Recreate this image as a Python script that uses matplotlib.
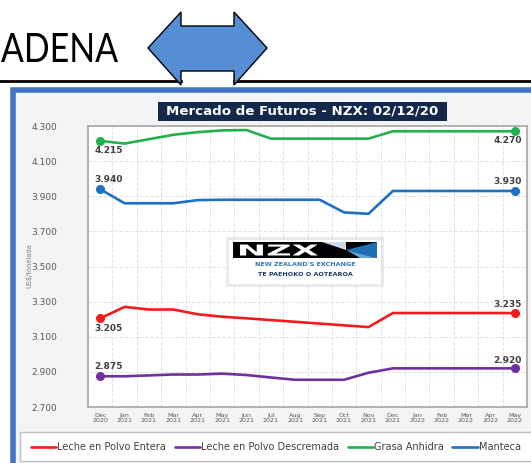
import numpy as np
import matplotlib
matplotlib.use("Agg")
import matplotlib.pyplot as plt
from matplotlib.patches import Rectangle, Polygon, PathPatch
from matplotlib.ticker import FuncFormatter
from matplotlib.textpath import TextPath
from matplotlib.font_manager import FontProperties
from matplotlib.transforms import Affine2D

# data (US$/tonelada)
months = ["Dec\n2020", "Jan\n2021", "Feb\n2021", "Mar\n2021", "Apr\n2021", "May\n2021",
          "Jun\n2021", "Jul\n2021", "Aug\n2021", "Sep\n2021", "Oct\n2021", "Nov\n2021",
          "Dec\n2021", "Jan\n2022", "Feb\n2022", "Mar\n2022", "Apr\n2022", "May\n2022"]
entera = [3205, 3270, 3255, 3255, 3228, 3214, 3205, 3195, 3185, 3175, 3165, 3155,
          3235, 3235, 3235, 3235, 3235, 3235]
descremada = [2875, 2875, 2880, 2885, 2885, 2890, 2882, 2868, 2855, 2855, 2855, 2895,
              2920, 2920, 2920, 2920, 2920, 2920]
grasa = [4215, 4200, 4225, 4250, 4265, 4275, 4277, 4228, 4228, 4228, 4228, 4228,
         4270, 4270, 4270, 4270, 4270, 4270]
manteca = [3940, 3860, 3860, 3860, 3878, 3880, 3880, 3880, 3880, 3880, 3808, 3800,
           3930, 3930, 3930, 3930, 3930, 3930]
series_names = ["Leche en Polvo Entera", "Leche en Polvo Descremada", "Grasa Anhidra", "Manteca"]
colors = ["#f21c1c", "#7030a0", "#22b14c", "#1f6fc5"]

W, H = 531, 463
fig = plt.figure(figsize=(W / 100, H / 100), dpi=100)


def rect(l, t, r, b):
    return [l / W, 1 - b / H, (r - l) / W, (b - t) / H]


def fitted_text(axis, s, x0, y_top, x1, y_bot, color, family="DejaVu Sans", weight="normal"):
    # text path squeezed into a pixel box (y axis inverted)
    tp = TextPath((0, 0), s, size=10, prop=FontProperties(family=family, weight=weight))
    e = tp.get_extents()
    tr = (Affine2D().translate(-e.x0, -e.y0)
          .scale((x1 - x0) / e.width, -(y_bot - y_top) / e.height).translate(x0, y_bot))
    axis.add_patch(PathPatch(tr.transform_path(tp), facecolor=color, edgecolor="none"))


# background layer in pixel coordinates
bg = fig.add_axes([0, 0, 1, 1])
bg.set_xlim(0, W)
bg.set_ylim(H, 0)
bg.axis("off")

fitted_text(bg, "ADENA", 1, 33, 118, 62, "black", family="Lato")
bg.plot([0, 181], [81, 81], color="black", lw=2, zorder=1)
bg.plot([234, W], [81, 81], color="black", lw=2, zorder=1)
arrow = [(148, 48), (181, 12), (181, 26), (234, 26), (234, 12), (267, 48),
         (234, 85), (234, 71), (181, 71), (181, 85)]
bg.add_patch(Polygon(arrow, closed=True, facecolor="#558ed5", edgecolor="black", lw=1, zorder=3))

# chart panel
bg.add_patch(Rectangle((12.5, 89.5), 530, 380, facecolor="#f3f4f6", edgecolor="#4472c4", lw=4))
bg.add_patch(Rectangle((158, 102), 289, 19, facecolor="#13284a", edgecolor="none"))
bg.text(302.5, 111.5, "Mercado de Futuros - NZX: 02/12/20", ha="center", va="center",
        color="white", fontsize=9.6, fontweight="bold")
bg.text(29, 266, "US$/tonelada", rotation=90, ha="center", va="center", fontsize=4.8, color="#7f7f7f")
bg.add_patch(Rectangle((20, 432), 520, 29, facecolor="white", edgecolor="#bfbfbf", lw=1))

# main chart
ax = fig.add_axes(rect(88, 126, 527, 407))
ax.set_facecolor("white")
x = np.arange(len(months))
all_series = [entera, descremada, grasa, manteca]
handles = []
for vals, c, name in zip(all_series, colors, series_names):
    ln, = ax.plot(x, vals, color=c, lw=1.9, label=name, solid_capstyle="round")
    ax.plot([x[0], x[-1]], [vals[0], vals[-1]], "o", color=c, ms=5.5)
    handles.append(ln)

fmt = lambda v: f"{v:,.0f}".replace(",", ".")
# first/last point labels: (dy first, dy last) in points
label_offsets = {0: (-7, 6), 1: (7, 6), 2: (-7, -7), 3: (7, 7)}
for i, vals in enumerate(all_series):
    d0, d1 = label_offsets[i]
    ax.annotate(fmt(vals[0]), (x[0], vals[0]), xytext=(6, d0), textcoords="offset points",
                ha="center", va="center", fontsize=6.5, fontweight="bold", color="#404040")
    ax.annotate(fmt(vals[-1]), (x[-1], vals[-1]), xytext=(-5, d1), textcoords="offset points",
                ha="center", va="center", fontsize=6.5, fontweight="bold", color="#404040")

ax.set_xlim(-0.5, len(months) - 0.5)
ax.set_ylim(2700, 4300)
ax.set_yticks(np.arange(2700, 4301, 200))
ax.yaxis.set_major_formatter(FuncFormatter(lambda v, p: fmt(v)))
ax.set_xticks(x)
ax.set_xticklabels(months, fontsize=4.6, color="#595959", linespacing=1.1)
ax.set_xticks(np.arange(-0.5, len(months), 1), minor=True)
ax.tick_params(axis="y", length=0, labelsize=6.5, labelcolor="#595959", pad=22)
ax.tick_params(axis="x", which="both", length=0, pad=4)
ax.grid(axis="y", which="major", color="#e3e3e3", ls="--", lw=0.7)
ax.grid(axis="x", which="minor", color="#e3e3e3", ls="--", lw=0.7)
for s in ax.spines.values():
    s.set_color("#a6a6a6")
    s.set_linewidth(1.2)

# NZX logo
lg = fig.add_axes([0, 0, 1, 1], zorder=5)
lg.set_xlim(0, W)
lg.set_ylim(H, 0)
lg.axis("off")
lg.patch.set_alpha(0)
lg.add_patch(Rectangle((226, 237), 158, 50, facecolor="#d9d9d9", edgecolor="none", alpha=0.5))
lg.add_patch(Rectangle((229, 240), 152, 44, facecolor="white", edgecolor="none"))
lg.add_patch(Rectangle((233, 242), 144, 16, facecolor="black", edgecolor="none"))
fitted_text(lg, "NZX", 240, 244.5, 318, 255.5, "white", weight="bold")
lg.add_patch(Polygon([(322, 242), (346, 250), (346, 242)], facecolor="#cfd8e6", edgecolor="none"))
lg.add_patch(Polygon([(346, 250), (377, 242), (377, 258)], facecolor="#1f6fb5", edgecolor="none"))
lg.add_patch(Polygon([(346, 250), (360, 258), (377, 258)], facecolor="#5fa3d9", edgecolor="none"))
lg.text(305, 265, "NEW ZEALAND'S EXCHANGE", ha="center", va="center", color="#2e75b6",
        fontsize=4.6, fontweight="bold")
lg.text(305, 274, "TE PAEHOKO O AOTEAROA", ha="center", va="center", color="#1f3864",
        fontsize=4.6, fontweight="bold")

fig.legend(handles, series_names, ncol=4, loc="center left", bbox_to_anchor=(22 / W, 1 - 447 / H),
           frameon=False, fontsize=7, handlelength=2.6, handletextpad=0.1, columnspacing=0.9,
           labelcolor="#404040")

fig.savefig("out.png", dpi=100)
